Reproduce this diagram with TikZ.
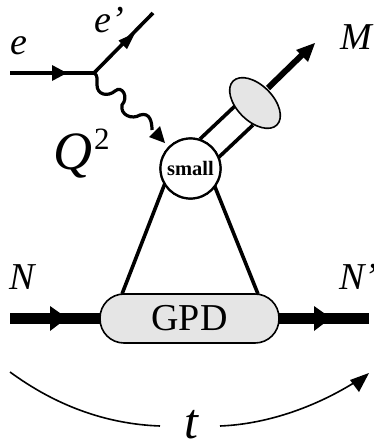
\documentclass[tikz,border=0pt]{standalone}
\usepackage{fontspec}
\setmainfont{Liberation Serif}
\usetikzlibrary{arrows.meta,calc,shapes.geometric}
\definecolor{fillgray}{gray}{0.9}
\tikzset{
  lbl/.style={inner sep=0pt,anchor=base west,font=\fontsize{38}{40}\selectfont\itshape},
  fermion/.style={line width=3.6pt},
  quark/.style={line width=3.6pt},
  nucleon/.style={line width=11pt},
  thin arc/.style={line width=1.6pt},
  blobstyle/.style={circle,draw,line width=2.2pt,fill=white,minimum size=60pt,inner sep=0pt,font=\fontsize{20.5}{22}\selectfont\bfseries},
}
\begin{document}
\begin{tikzpicture}[x=1pt,y=-1pt]
\useasboundingbox (0,0) rectangle (374,442);
\node[blobstyle] (blob) at (190.5,168.5) {small};
\coordinate (vtx) at (94,73);
\coordinate (ein) at (10,73);
\coordinate (eout) at (153,13);
\coordinate (Nin) at (10,318);
\coordinate (Nout) at (369,318);
\coordinate (ml) at (200,139);
\coordinate (mr) at (218,158);
\coordinate (mel) at (236,105);
\coordinate (mer) at (253,125);
\coordinate (ta) at (10,372);
\coordinate (tb) at (160,426);
\coordinate (tc) at (220,426);
\coordinate (ll) at (167,178);
\coordinate (lr) at (211,177);
\coordinate (gl) at (122,294);
\coordinate (gr) at (258,294);
% electron lines
\draw[fermion] (ein) -- (vtx) -- (eout);
\fill (52,65) -- (67,73) -- (52,81) -- cycle;
\fill (135,33) -- (127,49) -- (118.5,40.5) -- cycle;
% photon
\draw[line width=3.2pt] (vtx) .. controls (98,75) and (97,80) .. (97,85)
 .. controls (97,95) and (108,97) .. (115,91)
 .. controls (122,85) and (129,97) .. (122,105)
 .. controls (120,115) and (132,120) .. (140,115)
 .. controls (150,112) and (152,122) .. (152,130);
\fill (165,143) -- (149,137) -- (160,126) -- cycle;
% meson
\draw[quark] (ml) -- (mel);
\draw[quark] (mr) -- (mer);
\draw[line width=6pt] (268,88) -- (305,52);
\fill (315,43) -- (296,50) -- (308,62) -- cycle;
\node[ellipse,draw,line width=1.6pt,fill=fillgray,minimum width=62pt,minimum height=36pt,inner sep=0pt,rotate=-45] (mes) at (255,103) {};
% GPD
\draw[nucleon] (Nin) -- (100,318);
\draw[nucleon] (279,318) -- (Nout);
\fill (50,306) -- (67,318) -- (50,331) -- cycle;
\fill (314,306) -- (331,318) -- (314,331) -- cycle;
\node[draw,line width=1.6pt,fill=fillgray,rounded corners=24pt,minimum width=179pt,minimum height=49pt,inner sep=0pt,font=\fontsize{38}{40}\selectfont] (gpd) at (189.5,318.5) {GPD};
\draw[quark] (ll) -- (gl);
\draw[quark] (lr) -- (gr);
\node[blobstyle] at (blob) {small};
% t arcs
\draw[thin arc] (ta) .. controls (55,405) and (105,424) .. (tb);
\draw[thin arc] (tc) .. controls (270,424) and (320,405) .. (360,379);
\fill (369,373) -- (350,380) -- (359,392) -- cycle;
% labels
\node[lbl] (le) at (10,54) {e};
\node[lbl] (lep) at (94,32.5) {e’};
\node[lbl] (lm) at (340,49) {M};
\node[lbl] (ln) at (9,289) {N};
\node[lbl] (lnp) at (339,289) {N’};
\node[inner sep=0pt,anchor=base west,font=\fontsize{54}{56}\selectfont\itshape] (lq) at (53,169) {Q};
\node[inner sep=0pt,anchor=base west,font=\fontsize{31}{33}\selectfont] (l2) at (94,149) {2};
\node[inner sep=0pt,anchor=base,font=\fontsize{50}{52}\selectfont\itshape] (lt) at (191.5,438) {t};
\end{tikzpicture}
\end{document}
